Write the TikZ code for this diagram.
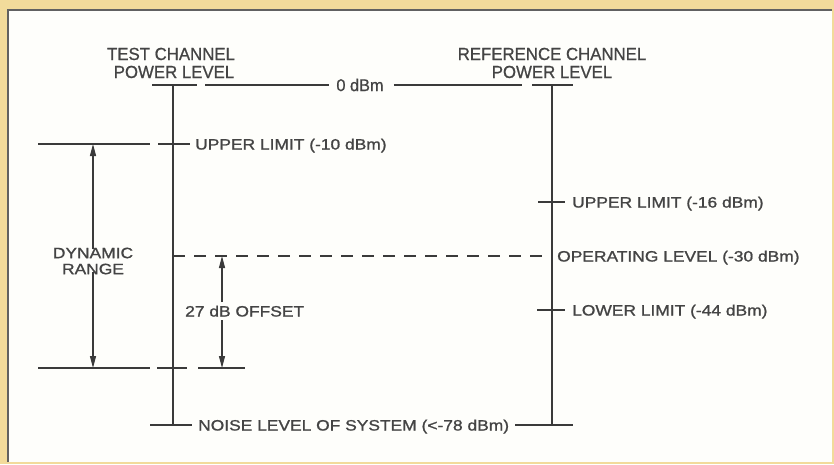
\documentclass[tikz,border=0pt]{standalone}
\usepackage{fontspec}
\setmainfont{Liberation Sans}
\newfontfamily\labfont[FakeStretch=1.16,FakeBold=1.2]{Liberation Sans}
\newfontfamily\headfont[FakeStretch=0.96,FakeBold=0.8]{Liberation Sans}
\usetikzlibrary{arrows.meta}
\definecolor{bgyellow}{HTML}{F2DB9B}
\definecolor{panel}{HTML}{FEFEFB}
\definecolor{ink}{HTML}{3A3A3A}
\definecolor{txt}{HTML}{444444}
\begin{document}
\begin{tikzpicture}[x=1pt,y=-1pt,
  heavy/.style={draw=ink,line width=1.7pt},
  thin/.style={draw=ink,line width=1.2pt},
  dashline/.style={draw=ink,line width=1.2pt,dash pattern=on 12pt off 9pt},
  arr/.style={draw=ink,line width=1.2pt,-{Triangle[length=12pt,width=6pt]}},
  head/.style={font=\headfont\fontsize{17.5}{18}\selectfont,text=txt,inner sep=0pt,anchor=base},
  lab/.style={font=\labfont\fontsize{15}{17}\selectfont,text=txt,inner sep=0pt,text height=11pt,text depth=0pt},
]
\useasboundingbox (0,0) rectangle (834,464);
\fill[bgyellow] (0,0) rectangle (834,464);
\fill[panel] (8,10) rectangle (832,462);
\draw[draw=ink!80,line width=1.6pt] (8,462) -- (8,10) -- (832,10);

% headers
\node[head] (th1) at (171,60) {TEST CHANNEL};
\node[head] (th2) at (174,78) {POWER LEVEL};
\node[head] (rh1) at (552,60) {REFERENCE CHANNEL};
\node[head] (rh2) at (552,78) {POWER LEVEL};

% axes
\coordinate (tT) at (173,85);
\coordinate (tB) at (173,425);
\coordinate (rT) at (552,85);
\coordinate (rB) at (552,425);
\draw[heavy] (tT) -- (tB);
\draw[heavy] (rT) -- (rB);
\draw[heavy] ([xshift=-21pt]tT) -- ([xshift=24pt]tT);
\draw[heavy] ([xshift=-20pt]rT) -- ([xshift=21pt]rT);

% 0 dBm
\node[font=\headfont\fontsize{17}{18}\selectfont,text=txt,inner sep=0pt] (zero) at (360,85) {0 dBm};
\coordinate (z1) at (205,85);
\coordinate (z2) at (522,85);
\draw[thin] (z1) -- ([xshift=-7pt]zero.west);
\draw[thin] ([xshift=10pt]zero.east) -- (z2);

% test upper limit
\coordinate (tu) at (173,144);
\draw[heavy] ([xshift=-15pt]tu) -- ([xshift=17pt]tu);
\node[lab,anchor=west] (tul) at (195,144) {UPPER LIMIT (-10 dBm)};
\coordinate (dl1) at (38,144);
\coordinate (dl2) at (150,144);
\draw[thin] (dl1) -- (dl2);

% dynamic range
\node[lab,align=center,text height=,text depth=,font=\labfont\fontsize{15}{16}\selectfont] (dyn) at (93,261) {DYNAMIC\\RANGE};
\coordinate (dTop) at (93,144);
\coordinate (dBot) at (93,368);
\draw[arr] ([yshift=-2pt]dyn.north) -- (dTop);
\draw[arr] ([yshift=3pt]dyn.south) -- (dBot);

% operating level dashed
\coordinate (op1) at (173,256);
\coordinate (op2) at (552,256);
\draw[dashline] (op1) -- (op2);
\node[lab,anchor=west] (opl) at (557,256) {OPERATING LEVEL (-30 dBm)};

% offset
\node[lab,anchor=west] (off) at (185,311) {27 dB OFFSET};
\coordinate (oTop) at (222,256);
\coordinate (oBot) at (222,368);
\draw[arr] (222,302) -- (oTop);
\draw[arr] (222,320) -- (oBot);

% bottom of dynamic range
\coordinate (b1) at (38,368);
\coordinate (b2) at (150,368);
\coordinate (b3) at (157,368);
\coordinate (b4) at (187,368);
\coordinate (b5) at (198,368);
\coordinate (b6) at (245,368);
\draw[thin] (b1) -- (b2);
\draw[heavy] (b3) -- (b4);
\draw[thin] (b5) -- (b6);

% reference limits
\coordinate (ru) at (552,202);
\draw[heavy] ([xshift=-14pt]ru) -- ([xshift=13pt]ru);
\node[lab,anchor=west] (rul) at (572,202) {UPPER LIMIT (-16 dBm)};
\coordinate (rl) at (552,310);
\draw[heavy] ([xshift=-15pt]rl) -- ([xshift=13pt]rl);
\node[lab,anchor=west] (rll) at (572,310) {LOWER LIMIT (-44 dBm)};

% noise
\draw[heavy] ([xshift=-23pt]tB) -- ([xshift=19pt]tB);
\node[lab,anchor=west] (noise) at (198,425) {NOISE LEVEL OF SYSTEM (<-78 dBm)};
\draw[heavy] ([xshift=6pt]noise.east) -- ([xshift=21pt]rB);
\end{tikzpicture}
\end{document}
